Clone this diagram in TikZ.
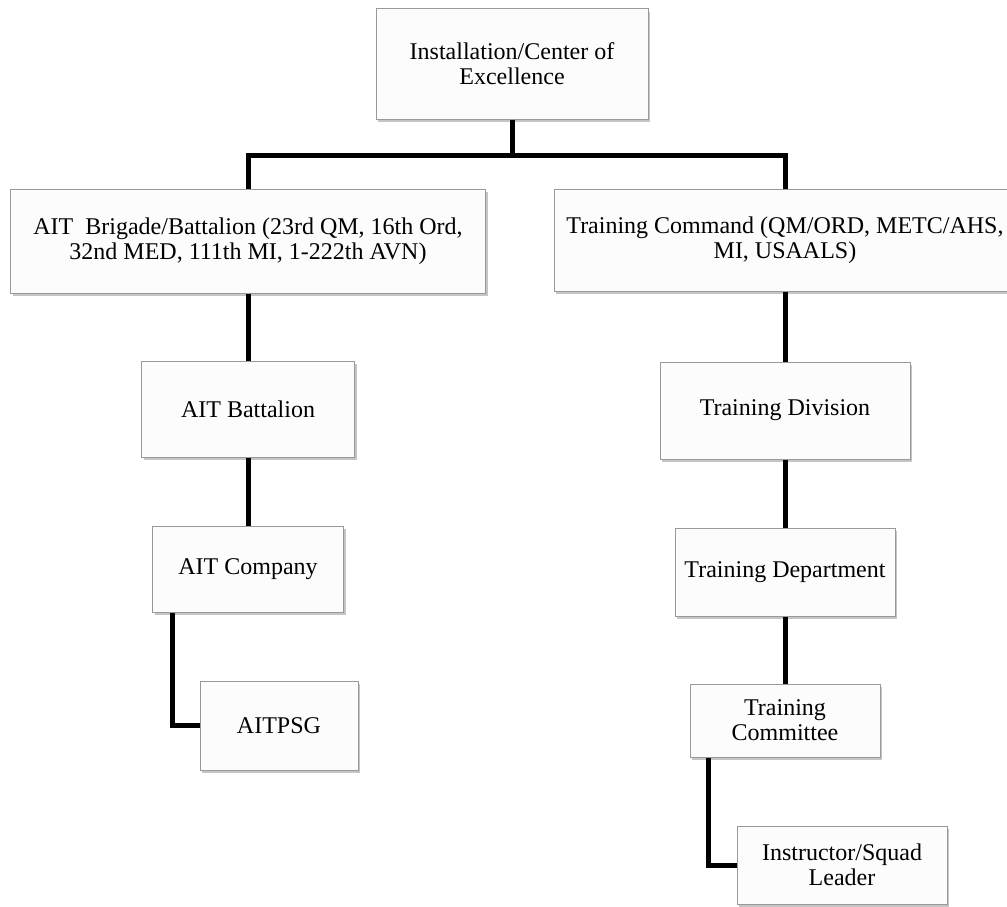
\documentclass[tikz,border=0pt]{standalone}
\usepackage{fontspec}
\setmainfont{Liberation Serif}
\usetikzlibrary{shadows, positioning}

\begin{document}
\begin{tikzpicture}[
    % GLOBAL CFG
    x=1pt, y=-1pt,
    font=\fontsize{24}{25}\selectfont,
    % Styles
    unit/.style={% For the boxes of the chart
        rectangle,
        draw=black!40,
        fill=white!99!black,
        line width=1pt,
        align=center,
        inner sep=2pt,
        drop shadow={shadow xshift=2pt, shadow yshift=-3pt, opacity=0.5, fill=black!45},
        },
    link/.style={% For the thick black connectors
        line width=5pt,
        draw=black,
        }
    ]

%Start drawing the thing...
    % Page and margins
    \fill [white] (0,0) rectangle (1007,907);
    \useasboundingbox (0,0) rectangle (1007,907);

    % Top of the chart
    \node [unit, minimum width=272pt, minimum height=110pt] (inst) at (512,64) {Installation/Center of\\Excellence};

    % Second level, named brig and tcmd
    \node [unit, minimum width=475pt, minimum height=104pt] (brig) at (248,241) {AIT\ \ Brigade/Battalion (23rd QM, 16th Ord,\\32nd MED, 111th MI, 1-222th AVN)};
    \node [unit, minimum width=462pt, minimum height=102pt] (tcmd) at (785,240) {Training Command (QM/ORD, METC/AHS,\\MI, USAALS)};

    % Left column: bn, co, psg
    \node [unit, minimum width=213pt, minimum height=96pt] (bn) at (248,409) {AIT Battalion};
    \node [unit, minimum width=191pt, minimum height=86pt] (co) at (248,569) {AIT Company};
    \node [unit, minimum width=158pt, minimum height=89pt] (psg) at (279,725.5) {AITPSG};

    % Right column: tdiv, tdept, tcom, instr
    \node [unit, minimum width=250pt, minimum height=97pt] (tdiv) at (785,410.5) {Training Division};
    \node [unit, minimum width=220pt, minimum height=88pt] (tdept) at (785,572) {Training Department};
    \node [unit, minimum width=190pt, minimum height=73pt] (tcom) at (785,720.5) {Training\\Committee};
    \node [unit, minimum width=210pt, minimum height=78pt] (instr) at (842,865) {Instructor/Squad\\Leader};

% Start connecting all.
    \coordinate (bar) at (514,155);
    \draw [link] (inst.south) -- (inst.south |- bar);
    \draw [link] (brig.north) |- (bar) -| (tcmd.north);

    % Left branch
    \draw [link] (brig) -- (bn);
    \draw [link] (bn) -- (co);
    \draw [link] ([xshift=20pt]co.south west) |- (psg.west);

    % Right branch
    \draw [link] (tcmd) -- (tdiv);
    \draw [link] (tdiv) -- (tdept);
    \draw [link] (tdept) -- (tcom);
    \draw [link] ([xshift=19pt]tcom.south west) |- (instr.west);

\end{tikzpicture}
\end{document}
